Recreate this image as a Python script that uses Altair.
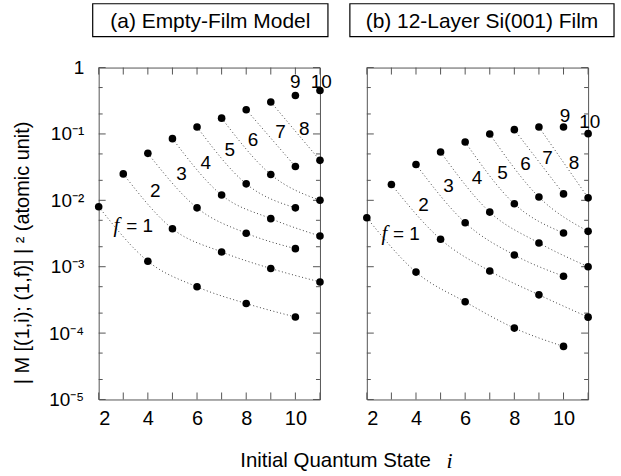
import altair as alt
import pandas as pd

FONT = "Liberation Sans"
SERIF = "Liberation Serif"
FRAME = "#555555"
W, H = 222, 333

# ---- initial states i for each final state f (same in both panels)
I_F1 = [2, 4, 6, 8, 10]
I_F2 = [3, 5, 7, 9, 11]
I_F3 = [4, 6, 8, 10]
I_F4 = [5, 7, 9, 11]
I_F5 = [6, 8, 10]
I_F6 = [7, 9, 11]
I_F7 = [8, 10]
I_F8 = [9, 11]
I_F9 = [10]
I_F10 = [11]

# ---- (a) Empty-Film Model  |M|^2
EMPTY_F1 = [8.0e-3, 1.21e-3, 4.98e-4, 2.79e-4, 1.75e-4]
EMPTY_F2 = [0.025, 3.73e-3, 1.67e-3, 9.4e-4, 5.9e-4]
EMPTY_F3 = [0.051, 7.7e-3, 3.2e-3, 1.87e-3]
EMPTY_F4 = [0.085, 0.012, 5.3e-3, 2.9e-3]
EMPTY_F5 = [0.127, 0.0177, 7.7e-3]
EMPTY_F6 = [0.173, 0.0245, 0.010]
EMPTY_F7 = [0.232, 0.0323]
EMPTY_F8 = [0.303, 0.040]
EMPTY_F9 = [0.38]
EMPTY_F10 = [0.45]

# ---- (b) 12-Layer Si(001) Film  |M|^2
SI_F1 = [5.46e-3, 8.3e-4, 2.96e-4, 1.19e-4, 6.3e-5]
SI_F2 = [0.0173, 2.59e-3, 8.6e-4, 3.77e-4, 1.74e-4]
SI_F3 = [0.0346, 4.6e-3, 1.5e-3, 7.2e-4]
SI_F4 = [0.0535, 6.65e-3, 2.28e-3, 1.0e-3]
SI_F5 = [0.0756, 8.86e-3, 3.22e-3]
SI_F6 = [0.0997, 0.0112, 3.41e-3]
SI_F7 = [0.116, 0.0125]
SI_F8 = [0.127, 0.0109]
SI_F9 = [0.127]
SI_F10 = [0.101]

# ---- curve labels
LBL_TEXT = ["2", "3", "4", "5", "6", "7", "8", "9", "10"]
LBL_A_I = [4.3, 5.37, 6.36, 7.33, 8.28, 9.4, 10.36, 10.0, 11.05]
LBL_A_M = [0.0137, 0.0245, 0.0366, 0.058, 0.082, 0.107, 0.12, 0.60, 0.60]
LBL_B_I = [4.31, 5.32, 6.48, 7.52, 8.45, 9.35, 10.43, 10.06, 11.07]
LBL_B_M = [0.0085, 0.0163, 0.0214, 0.0259, 0.0356, 0.043, 0.0366, 0.184, 0.150]
F1_A = {"fi": 2.72, "eqi": 3.12, "m": 0.0041}
F1_B = {"fi": 2.72, "eqi": 3.06, "m": 0.0031}

X_TICKS = [2, 3, 4, 5, 6, 7, 8, 9, 10, 11]
X_LABELS = [2, 4, 6, 8, 10]
Y_MAJOR = [1, 0.1, 0.01, 1e-3, 1e-4, 1e-5]
Y_MINOR = [0.5, 0.2, 0.05, 0.02, 5e-3, 2e-3, 5e-4, 2e-4, 5e-5, 2e-5]

I_ALL = [I_F1, I_F2, I_F3, I_F4, I_F5, I_F6, I_F7, I_F8, I_F9, I_F10]
EMPTY_ALL = [EMPTY_F1, EMPTY_F2, EMPTY_F3, EMPTY_F4, EMPTY_F5, EMPTY_F6, EMPTY_F7, EMPTY_F8, EMPTY_F9, EMPTY_F10]
SI_ALL = [SI_F1, SI_F2, SI_F3, SI_F4, SI_F5, SI_F6, SI_F7, SI_F8, SI_F9, SI_F10]


def table(vals):
    rows = []
    for f, (ii, mm) in enumerate(zip(I_ALL, vals), start=1):
        for i, m in zip(ii, mm):
            rows.append({"f": f, "i": i, "m": m})
    return pd.DataFrame(rows)


XS = alt.Scale(domain=[2, 11], nice=False, zero=False)
YS = alt.Scale(type="log", domain=[1e-5, 1], nice=False)

SUP = "['⁰','¹','²','³','⁴','⁵']"
Y_LABEL_EXPR = "datum.value >= 0.5 ? '1' : '10⁻' + " + SUP + "[round(-log(datum.value)/LN10)]"


def xenc(field, show):
    ax = alt.Axis(values=X_LABELS, ticks=False, domain=False, grid=False, title=None,
                  labelFontSize=20, labelFont=FONT, labelPadding=9, labelColor="black")
    return alt.X(field + ":Q", scale=XS, axis=ax)


def yenc(field, show):
    if show:
        ax = alt.Axis(values=Y_MAJOR, labelExpr=Y_LABEL_EXPR, ticks=False, domain=False,
                      grid=False, title=None, labelFontSize=19, labelFont=FONT,
                      labelPadding=15, labelColor="black")
    else:
        ax = alt.Axis(values=Y_MAJOR, labels=False, ticks=False, domain=False,
                      grid=False, title=None)
    return alt.Y(field + ":Q", scale=YS, axis=ax)


one = alt.Data(values=[{}])


def panel(vals, lbl_i, lbl_m, f1, title, box_x, box_x2, show_y):
    df = table(vals)
    lines = alt.Chart(df).mark_line(
        interpolate="monotone", strokeDash=[1, 2.5], strokeWidth=1, color="#444444"
    ).encode(x=xenc("i", show_y), y=yenc("m", show_y), detail="f:N")
    pts = alt.Chart(df).mark_circle(size=58, color="black", opacity=1).encode(
        x=xenc("i", show_y), y=yenc("m", show_y))

    ldf = pd.DataFrame({"t": LBL_TEXT, "i": lbl_i, "m": lbl_m})
    lbls = alt.Chart(ldf).mark_text(fontSize=19, font=FONT, color="black").encode(
        x=xenc("i", show_y), y=yenc("m", show_y), text="t:N")
    fdf = pd.DataFrame({"i": [f1["fi"]], "m": [f1["m"]]})
    f_it = alt.Chart(fdf).mark_text(fontSize=21, font=SERIF, fontStyle="italic",
                                     color="black").encode(
        x=xenc("i", show_y), y=yenc("m", show_y), text=alt.value("f"))
    edf = pd.DataFrame({"i": [f1["eqi"]], "m": [f1["m"]]})
    f_eq = alt.Chart(edf).mark_text(fontSize=19, font=FONT, align="left",
                                     color="black").encode(
        x=xenc("i", show_y), y=yenc("m", show_y), text=alt.value("= 1"))

    xt = pd.DataFrame({"t": X_TICKS})
    ymaj = pd.DataFrame({"t": Y_MAJOR})
    ymin = pd.DataFrame({"t": Y_MINOR})
    tb = alt.Chart(xt).mark_rule(color=FRAME).encode(
        x=xenc("t", show_y), y=alt.value(H), y2=alt.value(H - 7))
    tt = alt.Chart(xt).mark_rule(color=FRAME).encode(
        x=xenc("t", show_y), y=alt.value(0), y2=alt.value(7))
    tl = alt.Chart(ymaj).mark_rule(color=FRAME).encode(
        y=yenc("t", show_y), x=alt.value(0), x2=alt.value(7))
    tr = alt.Chart(ymaj).mark_rule(color=FRAME).encode(
        y=yenc("t", show_y), x=alt.value(W), x2=alt.value(W - 7))
    tl2 = alt.Chart(ymin).mark_rule(color=FRAME).encode(
        y=yenc("t", show_y), x=alt.value(0), x2=alt.value(4))
    tr2 = alt.Chart(ymin).mark_rule(color=FRAME).encode(
        y=yenc("t", show_y), x=alt.value(W), x2=alt.value(W - 4))

    box = alt.Chart(one).mark_rect(fill="white", stroke="black", strokeWidth=1.2).encode(
        x=alt.value(box_x), x2=alt.value(box_x2), y=alt.value(-64), y2=alt.value(-31))
    ttl = alt.Chart(one).mark_text(fontSize=21, font=FONT, color="black").encode(
        x=alt.value((box_x + box_x2) / 2), y=alt.value(-46), text=alt.value(title))

    layers = [tb, tt, tl, tr, tl2, tr2, lines, pts, lbls, f_it, f_eq, box, ttl]
    if show_y:
        ytitle = alt.Chart(one).mark_text(fontSize=20, font=FONT, angle=270,
                                           color="black").encode(
            x=alt.value(-76), y=alt.value(186),
            text=alt.value("| M [(1,i); (1,f)] | ² (atomic unit)"))
        xtitle = alt.Chart(one).mark_text(fontSize=20.5, font=FONT, align="left",
                                           color="black").encode(
            x=alt.value(142), y=alt.value(H + 62), text=alt.value("Initial Quantum State"))
        xi = alt.Chart(one).mark_text(fontSize=22, font=SERIF, fontStyle="italic",
                                       color="black").encode(
            x=alt.value(352), y=alt.value(H + 62), text=alt.value("i"))
        layers += [ytitle, xtitle, xi]
    return alt.layer(*layers).properties(width=W, height=H)


pa = panel(EMPTY_ALL, LBL_A_I, LBL_A_M, F1_A, "(a) Empty-Film Model", -6, 230, True)
pb = panel(SI_ALL, LBL_B_I, LBL_B_M, F1_B, "(b) 12-Layer Si(001) Film", -17, 248, False)

chart = alt.hconcat(pa, pb, spacing=47, bounds="flush").properties(
    padding={"left": 12, "top": 1, "right": 5, "bottom": 5}
).configure_view(stroke=FRAME, strokeWidth=1)

chart.save("out.html", embed_options={"renderer": "svg", "actions": False})
